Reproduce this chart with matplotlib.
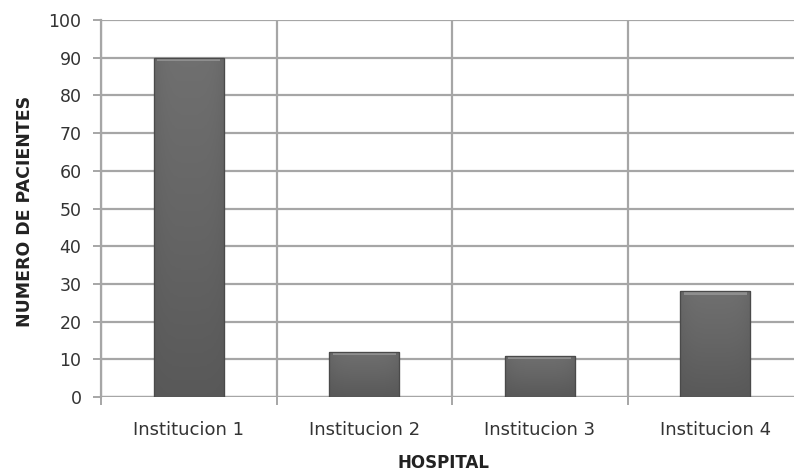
import matplotlib
matplotlib.use("Agg")
import matplotlib.pyplot as plt
import numpy as np
from matplotlib.colors import LinearSegmentedColormap

categories = ["Institucion 1", "Institucion 2", "Institucion 3", "Institucion 4"]
values = [90, 12, 11, 28]
yticks = list(range(0, 101, 10))

plt.rcParams['font.family'] = ['DejaVu Sans']

fig = plt.figure(figsize=(7.94, 4.74), dpi=100)
W, H = 794, 474
left, right, top, bottom = 101, 803, 20, 397
ax = fig.add_axes([left / W, 1 - bottom / H, (right - left) / W, (bottom - top) / H])

x = np.arange(len(categories))
bars = ax.bar(x, values, width=0.40, color="#636363", edgecolor="#4a4a4a", linewidth=0.8, zorder=3)

# gradient fill with bevel on each bar
cmap = LinearSegmentedColormap.from_list("g", ["#565656", "#656565", "#727272"])
for b in bars:
    x0, y0 = b.get_x(), b.get_y()
    w, h = b.get_width(), b.get_height()
    gv = np.linspace(0, 1, 100).reshape(-1, 1)
    gh = 1 - 0.35 * np.abs(np.linspace(-1, 1, 40)) ** 4
    grad = gv * 0.8 * gh.reshape(1, -1) + 0.1 * gh.reshape(1, -1)
    im = ax.imshow(grad, extent=[x0, x0 + w, y0, y0 + h], origin="lower",
                   cmap=cmap, vmin=0, vmax=1, aspect="auto", zorder=3.5)
    im.set_clip_path(b)
    bev = 0.9
    ax.fill_between([x0 + 0.02, x0 + w - 0.02], y0 + h - bev, y0 + h,
                    color="#8e8e8e", zorder=3.6, linewidth=0)
    ax.bar(x0 + w / 2, h, width=w, fill=False, edgecolor="#4a4a4a", linewidth=0.9, zorder=3.7)

ax.set_xlim(-0.5, len(categories) - 0.5)
ax.set_ylim(0, 100)
ax.set_yticks(yticks)
ax.set_yticklabels([str(t) for t in yticks], fontsize=12.5, color="#333333")
ax.set_xticks(x)
ax.set_xticklabels(categories, fontsize=13, color="#333333")
ax.set_xticks(np.arange(-0.5, len(categories), 1), minor=True)

ax.grid(axis="y", color="#a6a6a6", linewidth=1.6, zorder=0)
ax.grid(axis="x", which="minor", color="#a6a6a6", linewidth=1.6, zorder=0)
ax.tick_params(axis="x", which="major", length=0, pad=17)
ax.tick_params(axis="x", which="minor", length=6, width=1.4, color="#a6a6a6")
ax.tick_params(axis="y", length=6, width=1.4, color="#a6a6a6", pad=8)
for s in ["top", "right", "bottom"]:
    ax.spines[s].set_visible(False)
ax.spines["left"].set_color("#a6a6a6")
ax.spines["left"].set_linewidth(1.6)
ax.axhline(0, color="#a6a6a6", linewidth=1.6, zorder=2)

fig.text(25 / W, 1 - 211 / H, "NUMERO DE PACIENTES", rotation=90, ha="center", va="center",
         fontsize=12.5, fontweight="bold", color="#222222")
fig.text(443 / W, 1 - 463 / H, "HOSPITAL", ha="center", va="center",
         fontsize=12, fontweight="bold", color="#222222")

fig.savefig("out.png", dpi=100)
